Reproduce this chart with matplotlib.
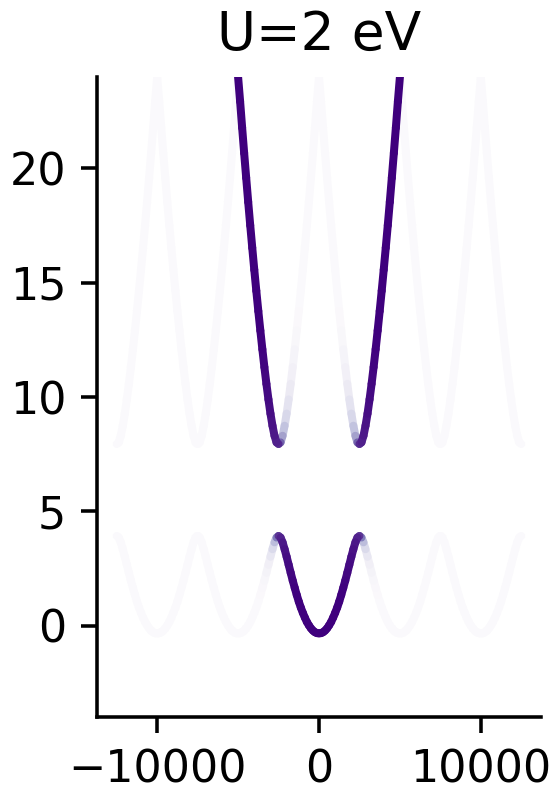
import numpy as np
import matplotlib
matplotlib.use("Agg")
import matplotlib.pyplot as plt
from matplotlib.collections import LineCollection

# k grid over one period of the extended zone (0 .. 5000), step 125
k_period = np.arange(0, 5001, 125)

# lower band energies read along k = 0 .. 5000
lower_E = [-0.33, -0.32, -0.28, -0.21, -0.11, 0.02, 0.17, 0.36, 0.57, 0.80,
           1.06, 1.35, 1.66, 1.98, 2.32, 2.67, 3.02, 3.35, 3.65, 3.86,
           3.93,
           3.86, 3.65, 3.35, 3.02, 2.67, 2.32, 1.98, 1.66, 1.35, 1.06,
           0.80, 0.57, 0.36, 0.17, 0.02, -0.11, -0.21, -0.28, -0.32, -0.33]

# upper band energies read along k = 0 .. 5000
upper_E = [24.0, 22.93, 21.78, 20.67, 19.59, 18.53, 17.51, 16.53, 15.57, 14.65,
           13.76, 12.91, 12.09, 11.31, 10.58, 9.90, 9.28, 8.75, 8.31, 8.02,
           7.95,
           8.02, 8.31, 8.75, 9.28, 9.90, 10.58, 11.31, 12.09, 12.91, 13.76,
           14.65, 15.57, 16.53, 17.51, 18.53, 19.59, 20.67, 21.78, 22.93, 24.0]

# spectral weights (central zone, k = 0 .. 5000)
lower_w = [1, 1, 1, 1, 1, 1, 1, 1, 1, 1, 1, 1,
           0.99, 0.98, 0.97, 0.96, 0.95, 0.93, 0.91, 0.87, 0.8,
           0.45, 0.3, 0.2, 0.13, 0.09, 0.06, 0.04,
           0.03, 0.02, 0.02, 0.02, 0.02, 0.02, 0.02, 0.02, 0.02, 0.02, 0.02, 0.02, 0.02]
upper_w = [0.02, 0.02, 0.02, 0.02, 0.02, 0.02, 0.02, 0.02, 0.02, 0.02, 0.02, 0.03,
           0.05, 0.08, 0.12, 0.17, 0.22, 0.3, 0.4, 0.55, 0.85,
           0.88, 0.91, 0.93, 0.95, 0.96, 0.97, 0.98, 0.99,
           1, 1, 1, 1, 1, 1, 1, 1, 1, 1, 1, 1]
faint_w = 0.02

period_shifts = [-15000, -10000, 5000, 10000]
k_max = 12500

cmap = plt.get_cmap("Purples")


def band_segments(k, E, w):
    k = np.asarray(k, float)
    E = np.asarray(E, float)
    w = np.asarray(w, float) * np.ones_like(k)
    keep = np.abs(k) <= k_max
    k, E, w = k[keep], E[keep], w[keep]
    pts = np.column_stack([k, E])
    segs = np.stack([pts[:-1], pts[1:]], axis=1)
    ws = 0.5 * (w[:-1] + w[1:])
    return segs, ws


fig = plt.figure(figsize=(552 / 320, 787 / 320), dpi=320)
ax = fig.add_axes([0.1763, 0.0886, 0.8032, 0.8136])

all_segs, all_w = [], []
for E, w in [(lower_E, lower_w), (upper_E, upper_w)]:
    for shift in period_shifts:
        s, ww = band_segments(k_period + shift, E, faint_w)
        all_segs.append(s)
        all_w.append(ww)
    for sign in (1, -1):
        s, ww = band_segments(sign * k_period, E, w)
        all_segs.append(s)
        all_w.append(ww)

segs = np.concatenate(all_segs)
ws = np.concatenate(all_w)
order = np.argsort(ws, kind="stable")
lc = LineCollection(segs[order], colors=cmap(ws[order]), linewidths=1.8,
                    capstyle="round", joinstyle="round")
ax.add_collection(lc)

ax.set_xlim(-13700, 13700)
ax.set_ylim(-4, 24)
ax.set_xticks([-10000, 0, 10000])
ax.set_yticks([0, 5, 10, 15, 20])
ax.spines["top"].set_visible(False)
ax.spines["right"].set_visible(False)
ax.set_title("U=2 eV")

fig.savefig("out.png", dpi=320)
